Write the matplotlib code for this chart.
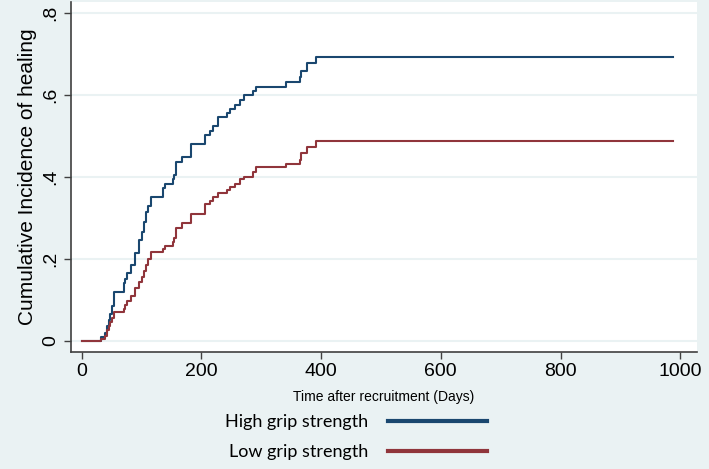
import matplotlib
matplotlib.use("Agg")
import matplotlib.pyplot as plt
from matplotlib import font_manager

# step times (days) shared by both curves, and cumulative incidence
days = [0, 33, 39, 43, 46, 48, 51, 54, 70, 72, 75, 82, 89, 96, 100, 104, 108, 111,
        116, 136, 140, 152, 155, 157, 168, 182, 206, 214, 220, 228, 243, 248, 256,
        264, 271, 286, 292, 341, 364, 366, 377, 391, 988]
high_grip = [0, 0.01, 0.018, 0.035, 0.05, 0.065, 0.085, 0.118, 0.14, 0.15, 0.166,
             0.185, 0.215, 0.245, 0.265, 0.29, 0.315, 0.33, 0.35, 0.372, 0.383,
             0.394, 0.405, 0.437, 0.448, 0.481, 0.502, 0.513, 0.525, 0.546, 0.556,
             0.566, 0.576, 0.588, 0.600, 0.61, 0.621, 0.631, 0.644, 0.66, 0.678,
             0.694, 0.694]
low_grip = [0, 0.005, 0.012, 0.025, 0.035, 0.045, 0.055, 0.069, 0.078, 0.088, 0.098,
            0.11, 0.128, 0.144, 0.155, 0.17, 0.185, 0.2, 0.217, 0.225, 0.232,
            0.24, 0.25, 0.275, 0.287, 0.31, 0.334, 0.342, 0.35, 0.36, 0.368,
            0.376, 0.384, 0.394, 0.401, 0.413, 0.424, 0.432, 0.4415, 0.458, 0.4725,
            0.489, 0.489]

x_ticks = [0, 200, 400, 600, 800, 1000]
y_ticks = [0, 0.2, 0.4, 0.6, 0.8]
y_tick_labels = ["0", ".2", ".4", ".6", ".8"]

names = {f.name for f in font_manager.fontManager.ttflist}
narrow = "Liberation Sans Narrow" if "Liberation Sans Narrow" in names else "Liberation Sans"

bg = "#eaf2f3"
blue = "#1a476f"
red = "#90353b"

fig = plt.figure(figsize=(7.09, 4.69), dpi=100, facecolor=bg)
ax = fig.add_axes([0.0997, 0.2501, 0.8834, 0.7456])
ax.set_facecolor("white")

ax.step(days, high_grip, where="post", color=blue, lw=1.5, label="High grip strength")
ax.step(days, low_grip, where="post", color=red, lw=1.5, label="Low grip strength")

ax.set_xlim(-18.3, 1028)
ax.set_ylim(-0.0269, 0.8276)
ax.set_xticks(x_ticks)
ax.set_yticks(y_ticks)
ax.set_yticklabels(y_tick_labels, rotation=90, va="center")
for lab in ax.get_xticklabels() + ax.get_yticklabels():
    lab.set_fontfamily(narrow)
    lab.set_fontsize(14)
ax.tick_params(length=5, width=1, color="#404040", pad=3)

ax.grid(axis="y", color=bg, lw=1.5)
ax.set_axisbelow(True)
for s in ["top", "right"]:
    ax.spines[s].set_visible(False)
for s in ["left", "bottom"]:
    ax.spines[s].set_color("#404040")
    ax.spines[s].set_linewidth(1.2)

ax.set_xlabel("Time after recruitment (Days)", fontfamily=narrow, fontsize=10, labelpad=7)
ax.set_ylabel("Cumulative Incidence of healing", fontfamily="Liberation Sans",
              fontsize=15, labelpad=4)

leg = fig.legend(loc="upper left", bbox_to_anchor=(0.317, 0.117), frameon=False,
                 markerfirst=False, handlelength=5.5, handletextpad=1.1,
                 labelspacing=0.76, prop={"family": "Lato", "size": 13},
                 borderaxespad=0, borderpad=0)
for line in leg.get_lines():
    line.set_linewidth(3)

fig.savefig("out.png", dpi=100, facecolor=bg)
